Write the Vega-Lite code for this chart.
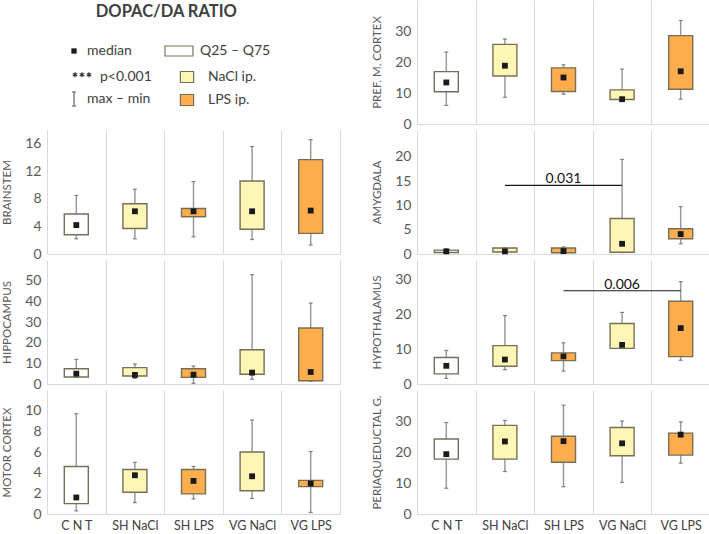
{
  "$schema": "https://vega.github.io/schema/vega-lite/v6.json",
  "padding": {"left": 1, "top": 0, "right": 0, "bottom": 0},
  "title": {"text": "DOPAC/DA RATIO", "anchor": "start", "frame": "bounds", "fontSize": 16.5, "fontWeight": "bold", "font": "Lato", "color": "#404040", "dx": 94, "dy": 20, "offset": 0},
  "datasets": {
    "stats": [
      {"region": "PREF. M. CORTEX", "group": "CNT", "trt": "CNT", "min": 6.0, "q25": 10.4, "median": 13.4, "q75": 16.9, "max": 23.2},
      {"region": "PREF. M. CORTEX", "group": "SH NaCl", "trt": "NaCl", "min": 8.6, "q25": 15.5, "median": 18.8, "q75": 25.7, "max": 27.4},
      {"region": "PREF. M. CORTEX", "group": "SH LPS", "trt": "LPS", "min": 9.6, "q25": 10.5, "median": 15.0, "q75": 18.1, "max": 19.1},
      {"region": "PREF. M. CORTEX", "group": "VG NaCl", "trt": "NaCl", "min": 7.8, "q25": 7.9, "median": 8.0, "q75": 11.0, "max": 17.7},
      {"region": "PREF. M. CORTEX", "group": "VG LPS", "trt": "LPS", "min": 8.0, "q25": 11.2, "median": 17.0, "q75": 28.5, "max": 33.4},
      {"region": "BRAINSTEM", "group": "CNT", "trt": "CNT", "min": 2.2, "q25": 2.8, "median": 4.2, "q75": 5.8, "max": 8.5},
      {"region": "BRAINSTEM", "group": "SH NaCl", "trt": "NaCl", "min": 2.2, "q25": 3.7, "median": 6.2, "q75": 7.3, "max": 9.4},
      {"region": "BRAINSTEM", "group": "SH LPS", "trt": "LPS", "min": 2.5, "q25": 5.4, "median": 6.2, "q75": 6.6, "max": 10.5},
      {"region": "BRAINSTEM", "group": "VG NaCl", "trt": "NaCl", "min": 2.1, "q25": 3.6, "median": 6.2, "q75": 10.6, "max": 15.6},
      {"region": "BRAINSTEM", "group": "VG LPS", "trt": "LPS", "min": 1.3, "q25": 3.0, "median": 6.3, "q75": 13.7, "max": 16.6},
      {"region": "AMYGDALA", "group": "CNT", "trt": "CNT", "min": 0.2, "q25": 0.3, "median": 0.55, "q75": 0.8, "max": 1.0},
      {"region": "AMYGDALA", "group": "SH NaCl", "trt": "NaCl", "min": 0.3, "q25": 0.4, "median": 0.55, "q75": 1.24, "max": 1.3},
      {"region": "AMYGDALA", "group": "SH LPS", "trt": "LPS", "min": 0.2, "q25": 0.27, "median": 0.6, "q75": 1.24, "max": 1.45},
      {"region": "AMYGDALA", "group": "VG NaCl", "trt": "NaCl", "min": 0.3, "q25": 0.35, "median": 2.1, "q75": 7.3, "max": 19.45},
      {"region": "AMYGDALA", "group": "VG LPS", "trt": "LPS", "min": 2.1, "q25": 3.15, "median": 4.1, "q75": 5.2, "max": 9.75},
      {"region": "HIPPOCAMPUS", "group": "CNT", "trt": "CNT", "min": 3.2, "q25": 3.4, "median": 5.0, "q75": 7.4, "max": 11.9},
      {"region": "HIPPOCAMPUS", "group": "SH NaCl", "trt": "NaCl", "min": 2.7, "q25": 3.9, "median": 4.4, "q75": 7.9, "max": 9.7},
      {"region": "HIPPOCAMPUS", "group": "SH LPS", "trt": "LPS", "min": 0.3, "q25": 3.2, "median": 4.5, "q75": 7.4, "max": 8.7},
      {"region": "HIPPOCAMPUS", "group": "VG NaCl", "trt": "NaCl", "min": 2.3, "q25": 4.7, "median": 5.5, "q75": 16.6, "max": 52.9},
      {"region": "HIPPOCAMPUS", "group": "VG LPS", "trt": "LPS", "min": 1.3, "q25": 1.6, "median": 5.8, "q75": 27.1, "max": 39.2},
      {"region": "HYPOTHALAMUS", "group": "CNT", "trt": "CNT", "min": 1.6, "q25": 2.9, "median": 5.2, "q75": 7.6, "max": 9.6},
      {"region": "HYPOTHALAMUS", "group": "SH NaCl", "trt": "NaCl", "min": 4.1, "q25": 5.1, "median": 7.0, "q75": 11.0, "max": 19.6},
      {"region": "HYPOTHALAMUS", "group": "SH LPS", "trt": "LPS", "min": 3.7, "q25": 6.7, "median": 7.9, "q75": 8.9, "max": 11.8},
      {"region": "HYPOTHALAMUS", "group": "VG NaCl", "trt": "NaCl", "min": 10.2, "q25": 10.2, "median": 11.2, "q75": 17.3, "max": 20.5},
      {"region": "HYPOTHALAMUS", "group": "VG LPS", "trt": "LPS", "min": 6.8, "q25": 7.85, "median": 16.0, "q75": 23.7, "max": 29.3},
      {"region": "MOTOR CORTEX", "group": "CNT", "trt": "CNT", "min": 0.3, "q25": 1.0, "median": 1.6, "q75": 4.6, "max": 9.7},
      {"region": "MOTOR CORTEX", "group": "SH NaCl", "trt": "NaCl", "min": 1.1, "q25": 2.1, "median": 3.75, "q75": 4.3, "max": 5.0},
      {"region": "MOTOR CORTEX", "group": "SH LPS", "trt": "LPS", "min": 1.45, "q25": 1.95, "median": 3.2, "q75": 4.3, "max": 4.6},
      {"region": "MOTOR CORTEX", "group": "VG NaCl", "trt": "NaCl", "min": 1.5, "q25": 2.25, "median": 3.65, "q75": 6.0, "max": 9.1},
      {"region": "MOTOR CORTEX", "group": "VG LPS", "trt": "LPS", "min": 0.15, "q25": 2.65, "median": 2.95, "q75": 3.25, "max": 6.05},
      {"region": "PERIAQUEDUCTAL G.", "group": "CNT", "trt": "CNT", "min": 8.3, "q25": 17.7, "median": 19.3, "q75": 24.2, "max": 29.5},
      {"region": "PERIAQUEDUCTAL G.", "group": "SH NaCl", "trt": "NaCl", "min": 13.7, "q25": 17.7, "median": 23.4, "q75": 28.6, "max": 30.2},
      {"region": "PERIAQUEDUCTAL G.", "group": "SH LPS", "trt": "LPS", "min": 8.8, "q25": 16.7, "median": 23.5, "q75": 25.1, "max": 35.1},
      {"region": "PERIAQUEDUCTAL G.", "group": "VG NaCl", "trt": "NaCl", "min": 10.2, "q25": 18.8, "median": 22.8, "q75": 27.9, "max": 30.0},
      {"region": "PERIAQUEDUCTAL G.", "group": "VG LPS", "trt": "LPS", "min": 16.4, "q25": 19.0, "median": 25.6, "q75": 26.1, "max": 29.7}
    ],
    "annot": [
      {"region": "AMYGDALA", "from": "SH NaCl", "to": "VG NaCl", "at": "SH LPS", "y": 14.1, "label": "0.031"},
      {"region": "HYPOTHALAMUS", "from": "SH LPS", "to": "VG LPS", "at": "VG NaCl", "y": 26.7, "label": "0.006"}
    ],
    "key": [{"m": "median", "a": "p<0.001", "b": "max – min", "q": "Q25 – Q75"}]
  },
  "columns": 2,
  "bounds": "flush",
  "spacing": {"row": 6, "column": 77},
  "concat": [
    {
      "width": 293, "height": 124,
      "data": {"name": "key"},
      "transform": [{"filter": "false"}],
      "layer": [
        {
          "mark": {"type": "point", "filled": true, "color": "#1a1a1a", "opacity": 1},
          "encoding": {
            "shape": {"field": "m", "type": "nominal", "scale": {"domain": ["median"], "range": ["square"]},
              "legend": {"title": null, "orient": "none", "legendX": 20, "legendY": 44, "symbolSize": 28, "labelFontSize": 14, "labelFont": "Lato", "labelColor": "#404040", "labelOffset": 6, "padding": 0}}
          }
        },
        {
          "mark": {"type": "point", "filled": false, "color": "#333333", "strokeWidth": 1.2, "opacity": 1},
          "encoding": {
            "strokeDash": {"field": "a", "type": "nominal", "scale": {"domain": ["p<0.001"], "range": [[1, 0]]},
              "legend": {"title": null, "orient": "none", "legendX": 28, "legendY": 70, "symbolSize": 36, "symbolStrokeWidth": 1.2,
                "symbolType": "M-2.33,-1.6V0.1M-3.08,-1.17L-1.58,-0.33M-3.08,-0.33L-1.58,-1.17M0,-1.6V0.1M-0.75,-1.17L0.75,-0.33M-0.75,-0.33L0.75,-1.17M2.33,-1.6V0.1M1.58,-1.17L3.08,-0.33M1.58,-0.33L3.08,-1.17",
                "labelFontSize": 14, "labelFont": "Lato", "labelColor": "#404040", "labelOffset": 11, "padding": 0}}
          }
        },
        {
          "mark": {"type": "point", "filled": false, "color": "#555555", "strokeWidth": 1.1},
          "encoding": {
            "opacity": {"field": "b", "type": "nominal", "scale": {"domain": ["max – min"], "range": [1, 1]},
              "legend": {"title": null, "orient": "none", "legendX": 20, "legendY": 92, "symbolSize": 36, "symbolStrokeWidth": 1.1,
                "symbolType": "M-0.67,-2.33H0.67M0,-2.33V2.33M-0.67,2.33H0.67",
                "labelFontSize": 14, "labelFont": "Lato", "labelColor": "#404040", "labelOffset": 6, "padding": 0}}
          }
        },
        {
          "mark": {"type": "point", "filled": false, "opacity": 1},
          "encoding": {
            "stroke": {"field": "q", "type": "nominal",
              "scale": {"domain": ["Q25 – Q75"], "range": ["#7a7560"]},
              "legend": {"title": null, "orient": "none", "legendX": 125, "legendY": 44, "symbolType": "M-2.33,-0.83H2.33V0.83H-2.33Z", "symbolSize": 144, "symbolStrokeWidth": 1.2, "labelFontSize": 14, "labelFont": "Lato", "labelColor": "#404040", "labelOffset": 14, "padding": 0}
            }
          }
        }
      ]
    },
    {
      "width": 293, "height": 124,
      "data": {"name": "stats"},
      "transform": [{"filter": "datum.region == 'PREF. M. CORTEX'"}],
      "encoding": {"x": {"field": "group", "type": "nominal", "sort": null, "scale": {"domain": ["CNT", "SH NaCl", "SH LPS", "VG NaCl", "VG LPS"], "paddingInner": 0, "paddingOuter": 0}, "axis": {"labels": false, "tickBand": "extent"}}},
      "layer": [
        {"mark": {"type": "rule", "color": "#9b9b9b", "strokeWidth": 1.5}, "encoding": {"y": {"field": "min", "type": "quantitative", "scale": {"domain": [0, 40], "nice": false}, "axis": {"title": "PREF. M. CORTEX", "values": [0, 10, 20, 30]}}, "y2": {"field": "max"}}},
        {"mark": {"type": "tick", "color": "#555555", "size": 4, "thickness": 1.2}, "encoding": {"y": {"field": "min", "type": "quantitative", "axis": null}}},
        {"mark": {"type": "tick", "color": "#555555", "size": 4, "thickness": 1.2}, "encoding": {"y": {"field": "max", "type": "quantitative", "axis": null}}},
        {"mark": {"type": "bar", "stroke": "#756f58", "strokeWidth": 1.4, "width": {"band": 0.41}}, "encoding": {"y": {"field": "q25", "type": "quantitative", "axis": null}, "y2": {"field": "q75"},
          "fill": {"field": "trt", "type": "nominal", "scale": {"domain": ["CNT", "NaCl", "LPS"], "range": ["#ffffff", "#fff5b5", "#ffad4d"]},
            "legend": {"title": null, "orient": "none", "legendX": 133, "legendY": 70, "direction": "vertical", "values": ["NaCl", "LPS"], "symbolType": "M-1.1,-0.92H1.1V0.92H-1.1Z", "symbolSize": 144, "symbolStrokeColor": "#7a7560", "symbolStrokeWidth": 1.2, "labelFontSize": 14, "labelFont": "Lato", "labelColor": "#404040", "labelOffset": 14, "rowPadding": 7, "padding": 0,
              "labelExpr": "datum.value + ' ip.'"}}}},
        {"mark": {"type": "square", "color": "#1a1a1a", "size": 34, "opacity": 1}, "encoding": {"y": {"field": "median", "type": "quantitative", "axis": {"orient": "right", "labels": false, "title": null, "domain": true, "grid": false}}}}
      ],
      "resolve": {"axis": {"y": "independent"}}
    },
    {
      "width": 293, "height": 124,
      "data": {"name": "stats"},
      "transform": [{"filter": "datum.region == 'BRAINSTEM'"}],
      "encoding": {"x": {"field": "group", "type": "nominal", "sort": null, "scale": {"domain": ["CNT", "SH NaCl", "SH LPS", "VG NaCl", "VG LPS"], "paddingInner": 0, "paddingOuter": 0}, "axis": {"labels": false, "tickBand": "extent"}}},
      "layer": [
        {"mark": {"type": "rule", "color": "#9b9b9b", "strokeWidth": 1.5}, "encoding": {"y": {"field": "min", "type": "quantitative", "scale": {"domain": [0, 18], "nice": false}, "axis": {"title": "BRAINSTEM", "values": [0, 4, 8, 12, 16]}}, "y2": {"field": "max"}}},
        {"mark": {"type": "tick", "color": "#555555", "size": 4, "thickness": 1.2}, "encoding": {"y": {"field": "min", "type": "quantitative", "axis": null}}},
        {"mark": {"type": "tick", "color": "#555555", "size": 4, "thickness": 1.2}, "encoding": {"y": {"field": "max", "type": "quantitative", "axis": null}}},
        {"mark": {"type": "bar", "stroke": "#756f58", "strokeWidth": 1.4, "width": {"band": 0.41}}, "encoding": {"y": {"field": "q25", "type": "quantitative", "axis": null}, "y2": {"field": "q75"}, "fill": {"field": "trt", "type": "nominal", "scale": {"domain": ["CNT", "NaCl", "LPS"], "range": ["#ffffff", "#fff5b5", "#ffad4d"]}}}},
        {"mark": {"type": "square", "color": "#1a1a1a", "size": 34, "opacity": 1}, "encoding": {"y": {"field": "median", "type": "quantitative", "axis": {"orient": "right", "labels": false, "title": null, "domain": true, "grid": false}}}}
      ],
      "resolve": {"axis": {"y": "independent"}}
    },
    {
      "width": 293, "height": 124,
      "data": {"name": "stats"},
      "transform": [{"filter": "datum.region == 'AMYGDALA'"}],
      "encoding": {"x": {"field": "group", "type": "nominal", "sort": null, "scale": {"domain": ["CNT", "SH NaCl", "SH LPS", "VG NaCl", "VG LPS"], "paddingInner": 0, "paddingOuter": 0}, "axis": {"labels": false, "tickBand": "extent"}}},
      "layer": [
        {"mark": {"type": "rule", "color": "#9b9b9b", "strokeWidth": 1.5}, "encoding": {"y": {"field": "min", "type": "quantitative", "scale": {"domain": [0, 25.5], "nice": false}, "axis": {"title": "AMYGDALA", "values": [0, 5, 10, 15, 20]}}, "y2": {"field": "max"}}},
        {"mark": {"type": "tick", "color": "#555555", "size": 4, "thickness": 1.2}, "encoding": {"y": {"field": "min", "type": "quantitative", "axis": null}}},
        {"mark": {"type": "tick", "color": "#555555", "size": 4, "thickness": 1.2}, "encoding": {"y": {"field": "max", "type": "quantitative", "axis": null}}},
        {"mark": {"type": "bar", "stroke": "#756f58", "strokeWidth": 1.4, "width": {"band": 0.41}}, "encoding": {"y": {"field": "q25", "type": "quantitative", "axis": null}, "y2": {"field": "q75"}, "fill": {"field": "trt", "type": "nominal", "scale": {"domain": ["CNT", "NaCl", "LPS"], "range": ["#ffffff", "#fff5b5", "#ffad4d"]}}}},
        {"data": {"name": "annot"}, "transform": [{"filter": "datum.region == 'AMYGDALA'"}], "mark": {"type": "rule", "color": "#1a1a1a", "strokeWidth": 1.2}, "encoding": {"x": {"field": "from", "type": "nominal"}, "x2": {"field": "to"}, "y": {"field": "y", "type": "quantitative", "axis": null}}},
        {"data": {"name": "annot"}, "transform": [{"filter": "datum.region == 'AMYGDALA'"}], "mark": {"type": "text", "baseline": "alphabetic", "dy": -2, "fontSize": 14, "font": "Lato", "color": "#111111"}, "encoding": {"x": {"field": "at", "type": "nominal"}, "y": {"field": "y", "type": "quantitative", "axis": null}, "text": {"field": "label"}}},
        {"mark": {"type": "square", "color": "#1a1a1a", "size": 34, "opacity": 1}, "encoding": {"y": {"field": "median", "type": "quantitative", "axis": {"orient": "right", "labels": false, "title": null, "domain": true, "grid": false}}}}
      ],
      "resolve": {"axis": {"y": "independent"}}
    },
    {
      "width": 293, "height": 124,
      "data": {"name": "stats"},
      "transform": [{"filter": "datum.region == 'HIPPOCAMPUS'"}],
      "encoding": {"x": {"field": "group", "type": "nominal", "sort": null, "scale": {"domain": ["CNT", "SH NaCl", "SH LPS", "VG NaCl", "VG LPS"], "paddingInner": 0, "paddingOuter": 0}, "axis": {"labels": false, "tickBand": "extent"}}},
      "layer": [
        {"mark": {"type": "rule", "color": "#9b9b9b", "strokeWidth": 1.5}, "encoding": {"y": {"field": "min", "type": "quantitative", "scale": {"domain": [0, 60], "nice": false}, "axis": {"title": "HIPPOCAMPUS", "values": [0, 10, 20, 30, 40, 50]}}, "y2": {"field": "max"}}},
        {"mark": {"type": "tick", "color": "#555555", "size": 4, "thickness": 1.2}, "encoding": {"y": {"field": "min", "type": "quantitative", "axis": null}}},
        {"mark": {"type": "tick", "color": "#555555", "size": 4, "thickness": 1.2}, "encoding": {"y": {"field": "max", "type": "quantitative", "axis": null}}},
        {"mark": {"type": "bar", "stroke": "#756f58", "strokeWidth": 1.4, "width": {"band": 0.41}}, "encoding": {"y": {"field": "q25", "type": "quantitative", "axis": null}, "y2": {"field": "q75"}, "fill": {"field": "trt", "type": "nominal", "scale": {"domain": ["CNT", "NaCl", "LPS"], "range": ["#ffffff", "#fff5b5", "#ffad4d"]}}}},
        {"mark": {"type": "square", "color": "#1a1a1a", "size": 34, "opacity": 1}, "encoding": {"y": {"field": "median", "type": "quantitative", "axis": {"orient": "right", "labels": false, "title": null, "domain": true, "grid": false}}}}
      ],
      "resolve": {"axis": {"y": "independent"}}
    },
    {
      "width": 293, "height": 124,
      "data": {"name": "stats"},
      "transform": [{"filter": "datum.region == 'HYPOTHALAMUS'"}],
      "encoding": {"x": {"field": "group", "type": "nominal", "sort": null, "scale": {"domain": ["CNT", "SH NaCl", "SH LPS", "VG NaCl", "VG LPS"], "paddingInner": 0, "paddingOuter": 0}, "axis": {"labels": false, "tickBand": "extent"}}},
      "layer": [
        {"mark": {"type": "rule", "color": "#9b9b9b", "strokeWidth": 1.5}, "encoding": {"y": {"field": "min", "type": "quantitative", "scale": {"domain": [0, 35.5], "nice": false}, "axis": {"title": "HYPOTHALAMUS", "values": [0, 10, 20, 30]}}, "y2": {"field": "max"}}},
        {"mark": {"type": "tick", "color": "#555555", "size": 4, "thickness": 1.2}, "encoding": {"y": {"field": "min", "type": "quantitative", "axis": null}}},
        {"mark": {"type": "tick", "color": "#555555", "size": 4, "thickness": 1.2}, "encoding": {"y": {"field": "max", "type": "quantitative", "axis": null}}},
        {"mark": {"type": "bar", "stroke": "#756f58", "strokeWidth": 1.4, "width": {"band": 0.41}}, "encoding": {"y": {"field": "q25", "type": "quantitative", "axis": null}, "y2": {"field": "q75"}, "fill": {"field": "trt", "type": "nominal", "scale": {"domain": ["CNT", "NaCl", "LPS"], "range": ["#ffffff", "#fff5b5", "#ffad4d"]}}}},
        {"data": {"name": "annot"}, "transform": [{"filter": "datum.region == 'HYPOTHALAMUS'"}], "mark": {"type": "rule", "color": "#1a1a1a", "strokeWidth": 1.2}, "encoding": {"x": {"field": "from", "type": "nominal"}, "x2": {"field": "to"}, "y": {"field": "y", "type": "quantitative", "axis": null}}},
        {"data": {"name": "annot"}, "transform": [{"filter": "datum.region == 'HYPOTHALAMUS'"}], "mark": {"type": "text", "baseline": "alphabetic", "dy": -2, "fontSize": 14, "font": "Lato", "color": "#111111"}, "encoding": {"x": {"field": "at", "type": "nominal"}, "y": {"field": "y", "type": "quantitative", "axis": null}, "text": {"field": "label"}}},
        {"mark": {"type": "square", "color": "#1a1a1a", "size": 34, "opacity": 1}, "encoding": {"y": {"field": "median", "type": "quantitative", "axis": {"orient": "right", "labels": false, "title": null, "domain": true, "grid": false}}}}
      ],
      "resolve": {"axis": {"y": "independent"}}
    },
    {
      "width": 293, "height": 124,
      "data": {"name": "stats"},
      "transform": [{"filter": "datum.region == 'MOTOR CORTEX'"}],
      "encoding": {"x": {"field": "group", "type": "nominal", "sort": null, "scale": {"domain": ["CNT", "SH NaCl", "SH LPS", "VG NaCl", "VG LPS"], "paddingInner": 0, "paddingOuter": 0}, "axis": {"labels": true, "tickBand": "extent", "labelExpr": "datum.value == 'CNT' ? 'C N T' : datum.value"}}},
      "layer": [
        {"mark": {"type": "rule", "color": "#9b9b9b", "strokeWidth": 1.5}, "encoding": {"y": {"field": "min", "type": "quantitative", "scale": {"domain": [0, 12], "nice": false}, "axis": {"title": "MOTOR CORTEX", "values": [0, 2, 4, 6, 8, 10]}}, "y2": {"field": "max"}}},
        {"mark": {"type": "tick", "color": "#555555", "size": 4, "thickness": 1.2}, "encoding": {"y": {"field": "min", "type": "quantitative", "axis": null}}},
        {"mark": {"type": "tick", "color": "#555555", "size": 4, "thickness": 1.2}, "encoding": {"y": {"field": "max", "type": "quantitative", "axis": null}}},
        {"mark": {"type": "bar", "stroke": "#756f58", "strokeWidth": 1.4, "width": {"band": 0.41}}, "encoding": {"y": {"field": "q25", "type": "quantitative", "axis": null}, "y2": {"field": "q75"}, "fill": {"field": "trt", "type": "nominal", "scale": {"domain": ["CNT", "NaCl", "LPS"], "range": ["#ffffff", "#fff5b5", "#ffad4d"]}}}},
        {"mark": {"type": "square", "color": "#1a1a1a", "size": 34, "opacity": 1}, "encoding": {"y": {"field": "median", "type": "quantitative", "axis": {"orient": "right", "labels": false, "title": null, "domain": true, "grid": false}}}}
      ],
      "resolve": {"axis": {"y": "independent"}}
    },
    {
      "width": 293, "height": 124,
      "data": {"name": "stats"},
      "transform": [{"filter": "datum.region == 'PERIAQUEDUCTAL G.'"}],
      "encoding": {"x": {"field": "group", "type": "nominal", "sort": null, "scale": {"domain": ["CNT", "SH NaCl", "SH LPS", "VG NaCl", "VG LPS"], "paddingInner": 0, "paddingOuter": 0}, "axis": {"labels": true, "tickBand": "extent", "labelExpr": "datum.value == 'CNT' ? 'C N T' : datum.value"}}},
      "layer": [
        {"mark": {"type": "rule", "color": "#9b9b9b", "strokeWidth": 1.5}, "encoding": {"y": {"field": "min", "type": "quantitative", "scale": {"domain": [0, 40], "nice": false}, "axis": {"title": "PERIAQUEDUCTAL G.", "values": [0, 10, 20, 30]}}, "y2": {"field": "max"}}},
        {"mark": {"type": "tick", "color": "#555555", "size": 4, "thickness": 1.2}, "encoding": {"y": {"field": "min", "type": "quantitative", "axis": null}}},
        {"mark": {"type": "tick", "color": "#555555", "size": 4, "thickness": 1.2}, "encoding": {"y": {"field": "max", "type": "quantitative", "axis": null}}},
        {"mark": {"type": "bar", "stroke": "#756f58", "strokeWidth": 1.4, "width": {"band": 0.41}}, "encoding": {"y": {"field": "q25", "type": "quantitative", "axis": null}, "y2": {"field": "q75"}, "fill": {"field": "trt", "type": "nominal", "scale": {"domain": ["CNT", "NaCl", "LPS"], "range": ["#ffffff", "#fff5b5", "#ffad4d"]}}}},
        {"mark": {"type": "square", "color": "#1a1a1a", "size": 34, "opacity": 1}, "encoding": {"y": {"field": "median", "type": "quantitative", "axis": {"orient": "right", "labels": false, "title": null, "domain": true, "grid": false}}}}
      ],
      "resolve": {"axis": {"y": "independent"}}
    }
  ],
  "config": {
    "font": "Lato",
    "view": {"stroke": null},
    "axis": {"domainColor": "#d9d9d9", "domainWidth": 1, "gridColor": "#d9d9d9", "gridWidth": 1, "ticks": false, "labelColor": "#595959", "labelFont": "Lato", "titleFont": "Lato", "titleColor": "#595959", "titleFontWeight": "normal"},
    "axisX": {"grid": true, "title": null, "labelFontSize": 12.5, "labelPadding": 5, "labelColor": "#404040", "labelAngle": 0},
    "axisY": {"grid": false, "labelFontSize": 14, "labelPadding": 6, "titleFontSize": 11.5, "titlePadding": 12}
  }
}
